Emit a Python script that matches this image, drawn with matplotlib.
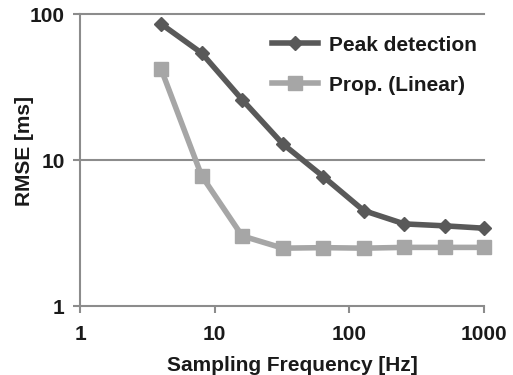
import matplotlib
matplotlib.use("Agg")
import matplotlib.pyplot as plt
from matplotlib.ticker import FixedLocator, NullLocator

plt.rcParams['font.family'] = ['Liberation Sans', 'DejaVu Sans']
plt.rcParams['font.weight'] = 'bold'

freq = [4, 8, 16, 32, 64, 128, 256, 512, 1000]
peak = [85.5, 54, 25.9, 12.9, 7.7, 4.5, 3.65, 3.54, 3.41]
prop = [42, 7.8, 3.02, 2.49, 2.51, 2.49, 2.52, 2.52, 2.52]
xticks = [1, 10, 100, 1000]
yticks = [1, 10, 100]

fig = plt.figure(figsize=(5.13, 3.75), dpi=100)
ax = fig.add_axes([80/513, 1-306/375, (484-80)/513, (306-14)/375])
ax.set_xscale('log')
ax.set_yscale('log')
ax.set_xlim(1, 1000)
ax.set_ylim(1, 100)

for y in [10, 100]:
    ax.axhline(y, color='#8c8c8c', lw=1.5, zorder=1, clip_on=False)

ax.plot(freq, peak, color='#595959', lw=4, marker='D', ms=7.5, label='Peak detection', zorder=3, clip_on=False)
ax.plot(freq, prop, color='#a6a6a6', lw=4, marker='s', ms=9.5, label='Prop. (Linear)', zorder=2, clip_on=False)

ax.xaxis.set_major_locator(FixedLocator(xticks))
ax.yaxis.set_major_locator(FixedLocator(yticks))
ax.xaxis.set_minor_locator(NullLocator())
ax.yaxis.set_minor_locator(NullLocator())
ax.set_xticklabels([str(v) for v in xticks])
ax.set_yticklabels([str(v) for v in yticks])

for s in ['top', 'right']:
    ax.spines[s].set_visible(False)
for s in ['left', 'bottom']:
    ax.spines[s].set_color('#8c8c8c')
    ax.spines[s].set_linewidth(1.5)
ax.tick_params(axis='both', colors='#8c8c8c', width=1.5, length=5, labelsize=15, labelcolor='#1a1a1a')
ax.tick_params(axis='x', pad=9)
ax.tick_params(axis='y', pad=6)

ax.set_xlabel('Sampling Frequency [Hz]', fontsize=15, fontweight='bold', color='#1a1a1a')
ax.xaxis.set_label_coords(0.525, -0.172)
fig.text(25/513, 1-151/375, 'RMSE [ms]', rotation=90, ha='center', va='center',
         fontsize=15, fontweight='bold', color='#1a1a1a')

leg = ax.legend(loc='upper right', bbox_to_anchor=(1.028, 0.99), frameon=False, fontsize=15,
                handlelength=2.2, labelspacing=1.0, handletextpad=0.5)
for t in leg.get_texts():
    t.set_color('#1a1a1a')

fig.savefig('out.png', dpi=100)
